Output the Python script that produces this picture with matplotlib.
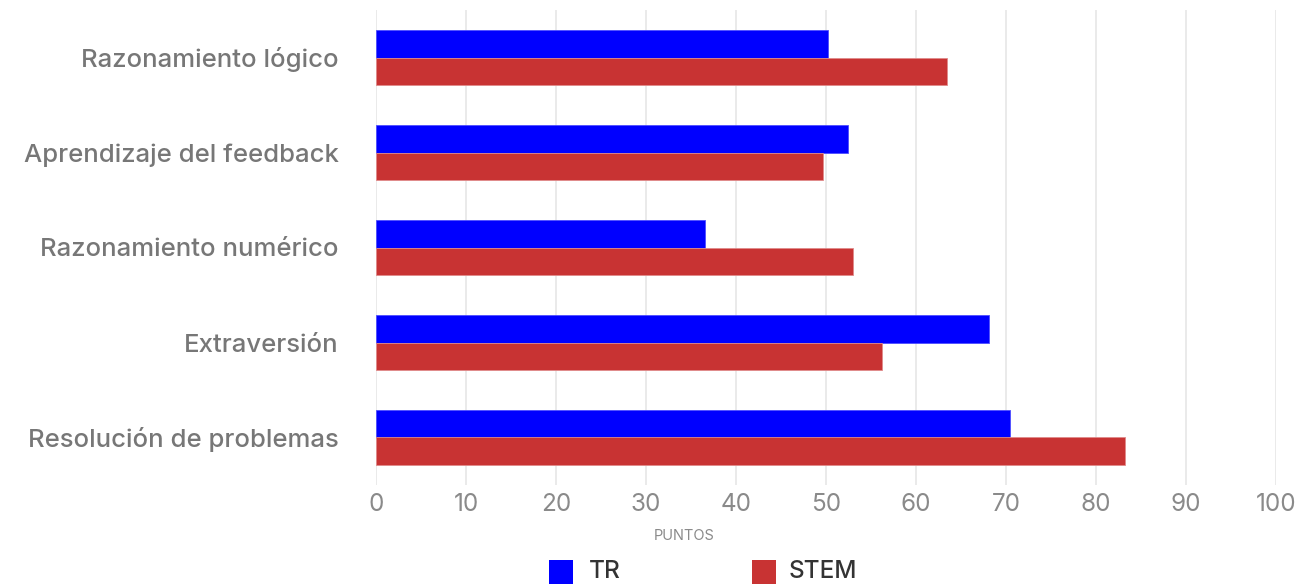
import matplotlib.pyplot as plt
import numpy as np
from matplotlib.patches import Rectangle

categories = ["Razonamiento lógico", "Aprendizaje del feedback", "Razonamiento numérico",
              "Extraversión", "Resolución de problemas"]
tr_values = [50.2, 52.4, 36.6, 68.1, 70.4]
stem_values = [63.4, 49.7, 53.0, 56.2, 83.2]
series_names = ["TR", "STEM"]
x_ticks = [0, 10, 20, 30, 40, 50, 60, 70, 80, 90, 100]

blue = "#0000ff"
red = "#c83333"
W, H = 1309, 585

plt.rcParams['font.family'] = ['Inter', 'DejaVu Sans']
fig = plt.figure(figsize=(W / 100, H / 100), dpi=100)
ax = fig.add_axes([376 / W, 1 - 485 / H, 900 / W, 475 / H])

y = np.arange(len(categories))
h = 0.29
ax.barh(y - h / 2, tr_values, height=h, color=blue, edgecolor="#4d4dff", linewidth=0.6, zorder=3)
ax.barh(y + h / 2, stem_values, height=h, color=red, edgecolor="#e08a8a", linewidth=0.6, zorder=3)

ax.set_xlim(0, 100)
ax.set_ylim(len(categories) - 0.5, -0.5)
ax.set_xticks(x_ticks)
ax.set_yticks(y)
ax.set_yticklabels(categories)
ax.grid(axis="x", color="#e6e6e6", linewidth=1.2, zorder=0)
for s in ax.spines.values():
    s.set_visible(False)
ax.tick_params(axis="y", length=0, pad=27, labelsize=18.5, labelcolor="#777777")
ax.tick_params(axis="x", length=0, pad=6, labelsize=17.5, labelcolor="#8a8a8a")
for lbl in ax.get_yticklabels():
    lbl.set_fontweight("medium")

fig.text(684 / W, 1 - 536 / H, "PUNTOS", ha="center", va="center", fontsize=10.5, color="#8a8a8a")

# legend drawn manually in figure pixel space
for x0, col, name, tx in [(549, blue, series_names[0], 589), (752, red, series_names[1], 789)]:
    fig.patches.append(Rectangle((x0 / W, 1 - 584 / H), 24 / W, 24 / H, transform=fig.transFigure,
                                 facecolor=col, edgecolor="none"))
    fig.text(tx / W, 1 - 572 / H, name, ha="left", va="center", fontsize=17.5, color="#333333",
             fontweight="medium")

fig.savefig("out.png", dpi=100)
